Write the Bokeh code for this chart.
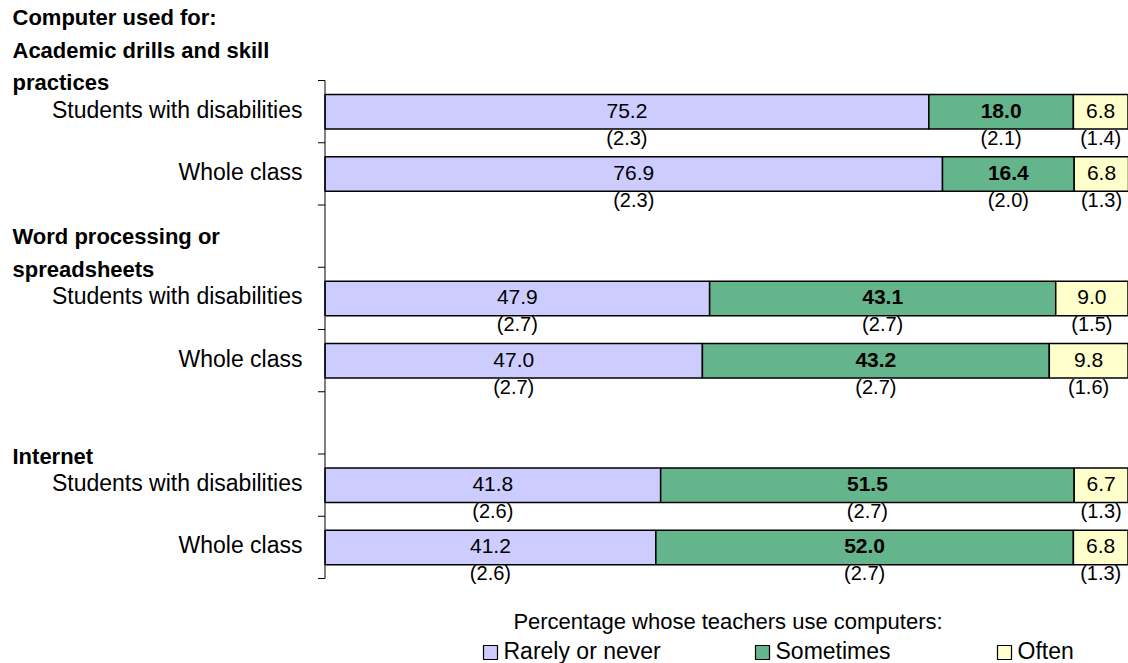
import textwrap
from bokeh.plotting import figure
from bokeh.models import ColumnDataSource, Range1d
from bokeh.core.properties import value
from bokeh.embed import file_html
from bokeh.resources import INLINE

# ---------------- data ----------------
title_line = "Computer used for:"
groups = ["Academic drills and skill practices", "Word processing or spreadsheets", "Internet"]
rows = ["Students with disabilities", "Whole class"]
series = ["Rarely or never", "Sometimes", "Often"]
rarely = [75.2, 76.9, 47.9, 47.0, 41.8, 41.2]
sometimes = [18.0, 16.4, 43.1, 43.2, 51.5, 52.0]
often = [6.8, 6.8, 9.0, 9.8, 6.7, 6.8]
se_rarely = [2.3, 2.3, 2.7, 2.7, 2.6, 2.6]
se_sometimes = [2.1, 2.0, 2.7, 2.7, 2.7, 2.7]
se_often = [1.4, 1.3, 1.5, 1.6, 1.3, 1.3]
legend_title = "Percentage whose teachers use computers:"

# ---------------- style / layout ----------------
colors = ["#CCCCFF", "#64B48C", "#FFFFCC"]
FONT = value("Liberation Sans")
W, H = 1128, 663
X0, KX = 324.5, 8.03      # canvas px of 0 %, px per percent
Y0, KY = 80.0, 62.25      # canvas px of first slot boundary, px per slot


def dx(px):  # canvas px -> data x
    return (px - X0) / KX


def dy(py):  # canvas px -> data y (increasing downward)
    return (py - Y0) / KY


p = figure(width=W, height=H, output_backend="svg", toolbar_location=None,
           x_range=Range1d(dx(0), dx(W)), y_range=Range1d(dy(H), dy(0)),
           x_axis_type=None, y_axis_type=None, min_border=0,
           outline_line_color=None, background_fill_color="white",
           border_fill_color="white")

n = len(rarely)
slots = [3 * g + r for g in range(len(groups)) for r in range(len(rows))]
centers = [s + 0.5 for s in slots]
row_names = [rows[r] for g in range(len(groups)) for r in range(len(rows))]

vals = [rarely, sometimes, often]
ses = [se_rarely, se_sometimes, se_often]
bar_h = 34.5 / KY

lefts = [0.0] * n
for k, (vs, ss) in enumerate(zip(vals, ses)):
    rights = [l + v for l, v in zip(lefts, vs)]
    src = ColumnDataSource(dict(
        y=centers, left=lefts, right=rights,
        mid=[(l + r) / 2 for l, r in zip(lefts, rights)],
        ty=[c - 1.0 / KY for c in centers],
        sy=[c + 26.0 / KY for c in centers],
        label=[f"{v:.1f}" for v in vs],
        se=[f"({s:.1f})" for s in ss],
    ))
    p.hbar(y="y", left="left", right="right", height=bar_h, source=src,
           fill_color=colors[k], line_color="black", line_width=1.5)
    p.text(x="mid", y="ty", text="label", source=src, text_align="center",
           text_baseline="middle", text_font=FONT, text_font_size="21px",
           text_font_style="bold" if k == 1 else "normal", text_color="black")
    p.text(x="mid", y="sy", text="se", source=src, text_align="center",
           text_baseline="middle", text_font=FONT, text_font_size="20px",
           text_color="black")
    lefts = rights

# row labels
p.text(x=[dx(302)] * n, y=[c - 2.0 / KY for c in centers], text=row_names,
       text_align="right", text_baseline="middle", text_font=FONT,
       text_font_size="23px", text_color="black")

# group headings
hx, hy, ht = [], [], []
for g, name in enumerate(groups):
    lines = textwrap.wrap(name, 25)
    if g == 0:
        lines = [title_line] + lines
    base = 3 * g + 2.0 / KY
    for i, line in enumerate(reversed(lines)):
        hx.append(dx(12))
        hy.append(base - i * 32.5 / KY)
        ht.append(line)
p.text(x=hx, y=hy, text=ht, text_align="left", text_baseline="middle",
       text_font=FONT, text_font_size="22px", text_font_style="bold",
       text_color="black")

# category axis line with outward ticks
n_slots = 3 * len(groups) - 1
p.segment(x0=[0], y0=[0], x1=[0], y1=[n_slots], line_color="black", line_width=1)
p.segment(x0=[-7.0 / KX] * (n_slots + 1), y0=list(range(n_slots + 1)),
          x1=[0] * (n_slots + 1), y1=list(range(n_slots + 1)),
          line_color="black", line_width=1)

# legend
p.text(x=[dx(727.5)], y=[dy(621)], text=[legend_title], text_align="center",
       text_baseline="middle", text_font=FONT, text_font_size="22px",
       text_color="black")
leg_px = [490, 762, 1004]
p.scatter(x=[dx(v) for v in leg_px], y=[dy(652)] * 3, marker="square", size=14,
          fill_color=colors, line_color="black", line_width=1.2)
p.text(x=[dx(v + 13) for v in leg_px], y=[dy(650)] * 3, text=series,
       text_align="left", text_baseline="middle", text_font=FONT,
       text_font_size="23px", text_color="black")

open("out.html", "w").write(file_html(p, INLINE))
